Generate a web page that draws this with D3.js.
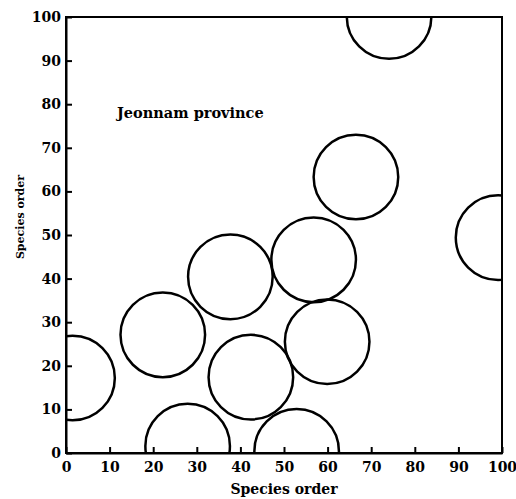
<!DOCTYPE html>
<html>
<head>
<meta charset="utf-8">
<script src="https://cdn.jsdelivr.net/npm/d3@7"></script>
<style>
  body { margin: 0; background: #fff; }
  svg { display: block; }
  .axis text { font-family: "DejaVu Serif", serif; font-weight: bold; font-size: 14px; fill: #000; }
  .axis path, .axis line { stroke: #000; stroke-width: 2; }
  .label { font-family: "DejaVu Serif", serif; font-weight: bold; fill: #000; }
</style>
</head>
<body>
<div id="chart"></div>
<script>
// circle centres (species order units)
var circleX = [1.5, 22.2, 27.9, 37.7, 42.4, 52.9, 56.8, 59.9, 66.5, 74.1, 99.1];
var circleY = [17.2, 27.1, 1.6, 40.4, 17.4, 0.4, 44.3, 25.5, 63.3, 100.1, 49.4];
var circleR = 9.7;
var tickValues = [0, 10, 20, 30, 40, 50, 60, 70, 80, 90, 100];

var margin = {top: 17, right: 14, bottom: 46, left: 66};
var width = 516 - margin.left - margin.right,
    height = 499 - margin.top - margin.bottom;

var svg = d3.select("#chart")
    .append("svg")
    .attr("width", 516)
    .attr("height", 499)
    .append("g")
    .attr("transform", "translate(" + margin.left + "," + margin.top + ")");

var xScale = d3.scaleLinear().domain([0, 100]).range([0, width]);
var yScale = d3.scaleLinear().domain([0, 100]).range([height, 0]);

svg.append("clipPath")
    .attr("id", "plot-clip")
    .append("rect")
    .attr("width", width)
    .attr("height", height);

var points = circleX.map(function(x, i) { return {x: x, y: circleY[i]}; });

svg.append("g")
    .attr("clip-path", "url(#plot-clip)")
    .selectAll("circle")
    .data(points)
    .enter().append("circle")
    .attr("cx", function(d) { return xScale(d.x); })
    .attr("cy", function(d) { return yScale(d.y); })
    .attr("r", xScale(circleR) - xScale(0))
    .attr("fill", "none")
    .attr("stroke", "#000")
    .attr("stroke-width", 2.5);

// frame
svg.append("rect")
    .attr("width", width)
    .attr("height", height)
    .attr("fill", "none")
    .attr("stroke", "#000")
    .attr("stroke-width", 2);

var xAxis = d3.axisBottom(xScale)
    .tickValues(tickValues)
    .tickSizeInner(-6)
    .tickSizeOuter(0)
    .tickPadding(9);

var yAxis = d3.axisLeft(yScale)
    .tickValues(tickValues)
    .tickSizeInner(-6)
    .tickSizeOuter(0)
    .tickPadding(5);

svg.append("g")
    .attr("class", "x axis")
    .attr("transform", "translate(0," + height + ")")
    .call(xAxis);

svg.append("g")
    .attr("class", "y axis")
    .call(yAxis);

svg.append("text")
    .attr("class", "label")
    .attr("x", 117 - margin.left)
    .attr("y", 118 - margin.top)
    .style("font-size", "14.5px")
    .text("Jeonnam province");

svg.append("text")
    .attr("class", "label")
    .attr("x", width / 2)
    .attr("y", 494 - margin.top)
    .attr("text-anchor", "middle")
    .style("font-size", "14px")
    .text("Species order");

svg.append("text")
    .attr("class", "label")
    .attr("transform", "translate(" + (24 - margin.left) + "," + (217 - margin.top) + ") rotate(-90)")
    .attr("text-anchor", "middle")
    .style("font-size", "11px")
    .text("Species order");
</script>
</body>
</html>
